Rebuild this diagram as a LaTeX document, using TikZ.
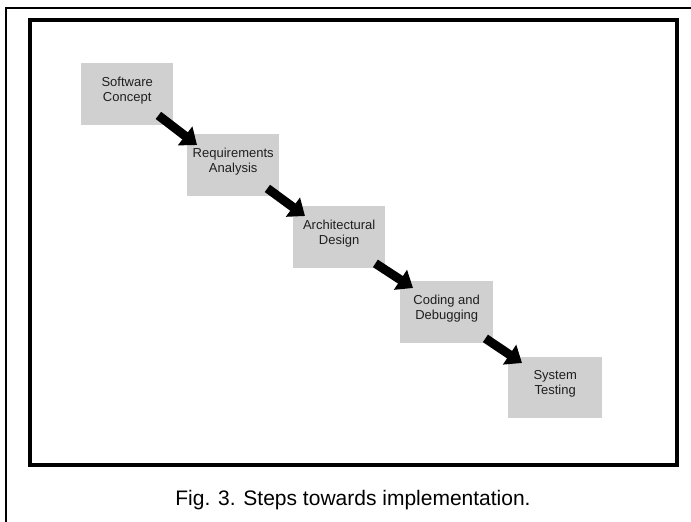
\documentclass[tikz,border=0pt]{standalone}
\usepackage{fontspec}
\setmainfont{Liberation Sans}
\usetikzlibrary{arrows.meta}
\begin{document}
\begin{tikzpicture}[x=1pt,y=-1pt,
  stepbox/.style={fill=boxgray, draw=none, inner sep=0pt, anchor=north west,
    minimum width=92pt, minimum height=62pt, align=center, text depth=10pt,
    font=\fontsize{13}{14.5}\selectfont, text=black!88},
  flow/.style={line width=9pt, black,
    -{Triangle[length=15pt,width=23pt]}}]
\definecolor{boxgray}{RGB}{208,208,208}
\useasboundingbox (0,0) rectangle (691,522);
\fill[white] (0,0) rectangle (691,522);
% outer thin frame (left and top)
\draw[line width=2pt] (5.5,522) -- (5.5,8) -- (691,8);
% inner thick frame
\draw[line width=4pt] (29.5,20) rectangle (676.5,465);
% boxes
\node[stepbox] (b1) at (81,63) {Software\\Concept};
\node[stepbox] (b2) at (187,134) {Requirements\\Analysis};
\node[stepbox] (b3) at (293,206) {Architectural\\Design};
\node[stepbox, minimum width=93pt] (b4) at (400,281) {Coding and\\Debugging};
\node[stepbox, minimum width=94pt, minimum height=61pt] (b5) at (508,357) {System\\Testing};
% arrows
\draw[flow] ([xshift=-15pt,yshift=10pt]b1.south east) -- ([xshift=10pt,yshift=-11pt]b2.north west);
\draw[flow] ([xshift=-12pt,yshift=8pt]b2.south east) -- ([xshift=12pt,yshift=-10pt]b3.north west);
\draw[flow] ([xshift=-10pt,yshift=5pt]b3.south east) -- ([xshift=13pt,yshift=-7pt]b4.north west);
\draw[flow] ([xshift=-8pt,yshift=5pt]b4.south east) -- ([xshift=14pt,yshift=-6pt]b5.north west);
% caption
\node[anchor=base, inner sep=0pt, font=\fontsize{21}{24}\selectfont] (cap) at (353,505) {Fig. 3. Steps towards implementation.};
\end{tikzpicture}
\end{document}
